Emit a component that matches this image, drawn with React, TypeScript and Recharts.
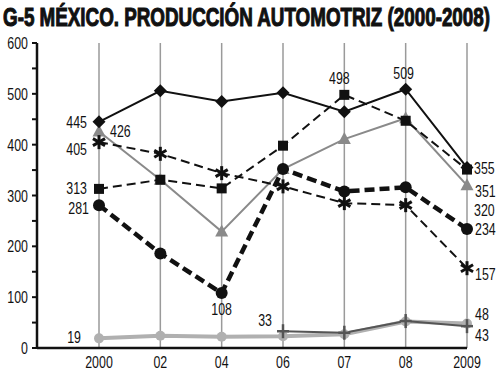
import React from 'react'
import {
  LineChart,
  Line,
  XAxis,
  YAxis,
  CartesianGrid,
  LabelList,
} from 'recharts'

const years = ['2000', '02', '04', '06', '07', '08', '2009']
const diamondSeries = [445, 506, 485, 502, 465, 509, 355]
const squareSeries = [313, 331, 314, 398, 498, 447, 351]
const triangleSeries = [426, 331, 229, 352, 411, 452, 320]
const circleSeries = [281, 186, 108, 352, 308, 316, 234]
const starSeries = [405, 382, 344, 318, 285, 281, 157]
const lightSeries = [19, 24, 22, 23, 27, 52, 48]
const plusSeries = [null, null, null, 33, 30, 53, 43]
const yTicks = [0, 50, 100, 150, 200, 250, 300, 350, 400, 450, 500, 550, 600]

const data = years.map((year, i) => ({
  year,
  diamond: diamondSeries[i],
  square: squareSeries[i],
  triangle: triangleSeries[i],
  circle: circleSeries[i],
  star: starSeries[i],
  light: lightSeries[i],
  plus: plusSeries[i],
}))

const FONT = "'Liberation Sans', Arial, sans-serif"
const NARROW = 0.75

// text squeezed horizontally, the fonts on hand are wider than the original
const NarrowText = ({ x, y, anchor, children, size = 16.5 }: any) => (
  <text
    transform={`translate(${x},${y}) scale(${NARROW},1)`}
    textAnchor={anchor}
    fontFamily={FONT}
    fontSize={size}
    fill='#111'>
    {children}
  </text>
)

// which points carry a value label, and where the label sits relative to the point
type LabelSpot = { index: number; dx: number; dy: number; anchor: 'start' | 'middle' | 'end' }
const labelSpots: Record<string, LabelSpot[]> = {
  diamond: [
    { index: 0, dx: -12, dy: 6, anchor: 'end' },
    { index: 5, dx: -2, dy: -10, anchor: 'middle' },
    { index: 6, dx: 7, dy: 6, anchor: 'start' },
  ],
  square: [
    { index: 0, dx: -12, dy: 5, anchor: 'end' },
    { index: 4, dx: -5, dy: -11, anchor: 'middle' },
    { index: 6, dx: 8, dy: 27, anchor: 'start' },
  ],
  triangle: [
    { index: 0, dx: 11, dy: 6, anchor: 'start' },
    { index: 6, dx: 7, dy: 31, anchor: 'start' },
  ],
  circle: [
    { index: 0, dx: -10, dy: 9, anchor: 'end' },
    { index: 2, dx: 0, dy: 22, anchor: 'middle' },
    { index: 6, dx: 8, dy: 6, anchor: 'start' },
  ],
  star: [
    { index: 0, dx: -12, dy: 13, anchor: 'end' },
    { index: 6, dx: 8, dy: 12, anchor: 'start' },
  ],
  light: [
    { index: 0, dx: -18, dy: 5, anchor: 'end' },
    { index: 6, dx: 8, dy: -4, anchor: 'start' },
  ],
  plus: [
    { index: 3, dx: -11, dy: -5, anchor: 'end' },
    { index: 6, dx: 8, dy: 15, anchor: 'start' },
  ],
}

const makeLabel = (key: string) => (props: any) => {
  const spot = labelSpots[key].find((s) => s.index === props.index)
  if (!spot || props.value == null) return null
  return (
    <NarrowText x={props.x + spot.dx} y={props.y + spot.dy} anchor={spot.anchor}>
      {props.value}
    </NarrowText>
  )
}

const XTick = (props: any) => (
  <NarrowText x={props.x} y={props.y + 12} anchor='middle'>
    {props.payload.value}
  </NarrowText>
)

const YTick = (props: any) => {
  const v = props.payload.value
  if (v % 100 !== 0) return null
  return (
    <NarrowText x={props.x + 1} y={props.y + 6} anchor='end'>
      {v}
    </NarrowText>
  )
}

const DiamondDot = (props: any) => {
  const { cx, cy } = props
  if (cx == null || cy == null) return null
  const r = 6.5
  return (
    <polygon
      points={`${cx},${cy - r} ${cx + r},${cy} ${cx},${cy + r} ${cx - r},${cy}`}
      fill='#111'
    />
  )
}

const SquareDot = (props: any) => {
  const { cx, cy } = props
  if (cx == null || cy == null) return null
  return <rect x={cx - 5} y={cy - 5} width={10} height={10} fill='#111' />
}

const TriangleDot = (props: any) => {
  const { cx, cy } = props
  if (cx == null || cy == null) return null
  return (
    <polygon
      points={`${cx},${cy - 7} ${cx + 6.5},${cy + 5} ${cx - 6.5},${cy + 5}`}
      fill='#8a8a8a'
    />
  )
}

const CircleDot = (props: any) => {
  const { cx, cy } = props
  if (cx == null || cy == null) return null
  return <circle cx={cx} cy={cy} r={6} fill='#111' />
}

const LightDot = (props: any) => {
  const { cx, cy } = props
  if (cx == null || cy == null) return null
  return <circle cx={cx} cy={cy} r={5} fill='#b0b0b0' />
}

const StarDot = (props: any) => {
  const { cx, cy } = props
  if (cx == null || cy == null) return null
  const r = 7
  const arms = [90, 30, -30].map((a) => {
    const rad = (a * Math.PI) / 180
    return [Math.cos(rad) * r, Math.sin(rad) * r]
  })
  return (
    <g stroke='#111' strokeWidth={3}>
      {arms.map(([dx, dy], i) => (
        <line key={i} x1={cx - dx} y1={cy - dy} x2={cx + dx} y2={cy + dy} />
      ))}
    </g>
  )
}

const PlusDot = (props: any) => {
  const { cx, cy } = props
  if (cx == null || cy == null) return null
  return (
    <g stroke='#555' strokeWidth={2.5}>
      <line x1={cx - 6} y1={cy} x2={cx + 6} y2={cy} />
      <line x1={cx} y1={cy - 7} x2={cx} y2={cy + 7} />
    </g>
  )
}

export default function App() {
  return (
    <div style={{ position: 'absolute', left: 0, top: 0, width: 500, height: 386, background: '#fff' }}>
      <svg width={500} height={40} style={{ position: 'absolute', left: 0, top: 0 }}>
        <text
          x={3}
          y={26}
          textLength={487}
          lengthAdjust='spacingAndGlyphs'
          fontFamily={FONT}
          fontWeight='bold'
          fontSize={26.5}
          stroke='#111'
          strokeWidth={1.1}
          fill='#111'>
          G-5 MÉXICO. PRODUCCIÓN AUTOMOTRIZ (2000-2008)
        </text>
      </svg>
      <div style={{ position: 'absolute', left: 0, top: 0 }}>
        <LineChart
          width={500}
          height={386}
          data={data}
          margin={{ top: 43, right: 33, bottom: 8, left: 0 }}>
          <CartesianGrid vertical horizontal={false} stroke='#9a9a9a' strokeWidth={1.5} />
          <XAxis
            dataKey='year'
            padding={{ left: 62, right: 0 }}
            height={30}
            axisLine={{ stroke: '#111', strokeWidth: 2.5 }}
            tickLine={false}
            tickMargin={2}
            tick={<XTick />}
            interval={0}
          />
          <YAxis
            domain={[0, 600]}
            ticks={yTicks}
            width={37}
            interval={0}
            axisLine={{ stroke: '#111', strokeWidth: 2.5 }}
            tickLine={{ stroke: '#111', strokeWidth: 2 }}
            tickSize={5}
            tickMargin={5}
            tick={<YTick />}
          />
          <Line
            dataKey='light'
            stroke='#b0b0b0'
            strokeWidth={4}
            dot={<LightDot />}
            isAnimationActive={false}>
            <LabelList dataKey='light' content={makeLabel('light')} />
          </Line>
          <Line
            dataKey='plus'
            stroke='#555'
            strokeWidth={2}
            dot={<PlusDot />}
            isAnimationActive={false}>
            <LabelList dataKey='plus' content={makeLabel('plus')} />
          </Line>
          <Line
            dataKey='triangle'
            stroke='#8a8a8a'
            strokeWidth={2}
            dot={<TriangleDot />}
            isAnimationActive={false}>
            <LabelList dataKey='triangle' content={makeLabel('triangle')} />
          </Line>
          <Line
            dataKey='star'
            stroke='#111'
            strokeWidth={2}
            strokeDasharray='9 5'
            dot={<StarDot />}
            isAnimationActive={false}>
            <LabelList dataKey='star' content={makeLabel('star')} />
          </Line>
          <Line
            dataKey='square'
            stroke='#111'
            strokeWidth={2}
            strokeDasharray='9 5'
            dot={<SquareDot />}
            isAnimationActive={false}>
            <LabelList dataKey='square' content={makeLabel('square')} />
          </Line>
          <Line
            dataKey='circle'
            stroke='#111'
            strokeWidth={4.5}
            strokeDasharray='10 5'
            dot={<CircleDot />}
            isAnimationActive={false}>
            <LabelList dataKey='circle' content={makeLabel('circle')} />
          </Line>
          <Line
            dataKey='diamond'
            stroke='#111'
            strokeWidth={2}
            dot={<DiamondDot />}
            isAnimationActive={false}>
            <LabelList dataKey='diamond' content={makeLabel('diamond')} />
          </Line>
        </LineChart>
      </div>
    </div>
  )
}
